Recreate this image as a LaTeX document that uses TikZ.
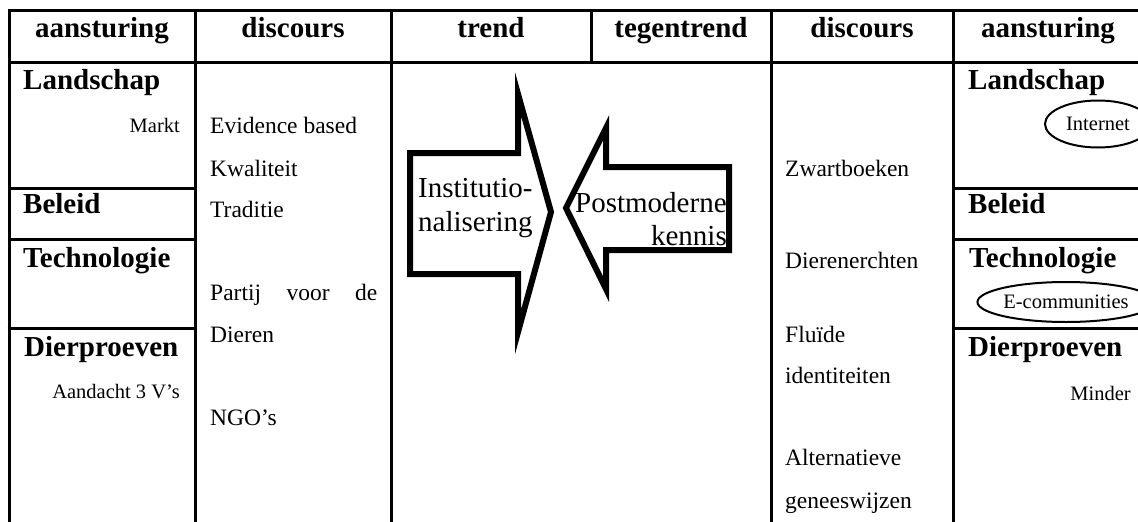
\documentclass[tikz,border=0pt]{standalone}
\usepackage{fontspec}
\setmainfont{Liberation Serif}
\usetikzlibrary{shapes.geometric}

\begin{document}
\begin{tikzpicture}[x=1pt,y=-1pt,
  grid/.style={line width=3pt},
  head/.style={font=\fontsize{29}{34}\selectfont\bfseries, anchor=base, inner sep=0pt},
  cat/.style={font=\fontsize{29}{34}\selectfont\bfseries, anchor=base west, inner sep=0pt},
  disc/.style={font=\fontsize{23.5}{28}\selectfont, anchor=base west, inner sep=0pt},
  note/.style={font=\fontsize{20.5}{24}\selectfont, anchor=base east, inner sep=0pt},
  tag/.style={ellipse, draw, line width=2pt, font=\fontsize{20.5}{24}\selectfont, inner sep=0pt},
  bigarrow/.style={draw, fill=white, line width=6pt, line join=miter, miter limit=20},
  arrowtext/.style={font=\fontsize{29}{34}\selectfont, inner sep=0pt}]

\useasboundingbox (0,0) rectangle (1138,522);

% table rules
\draw[grid] (9,524) -- (9,10) -- (1142,10);
\draw[grid] (7.5,62) -- (1142,62);
\foreach \xx in {195,391,771,953} \draw[grid] (\xx,10) -- (\xx,524);
\draw[grid] (591,10) -- (591,62);
\foreach \yy in {188,239,328} {
  \draw[grid] (7.5,\yy) -- (195,\yy);
  \draw[grid] (953,\yy) -- (1142,\yy);
}

% header row
\node[head] (h1) at (102,37) {aansturing};
\node[head] (h2) at (293,37) {discours};
\node[head] (h3) at (491,37) {trend};
\node[head] (h4) at (681,37) {tegentrend};
\node[head] (h5) at (862,37) {discours};
\node[head] (h6) at (1048,37) {aansturing};

% left steering column
\node[cat] (la) at (23,89) {Landschap};
\node[note] (lm) at (180,132) {Markt};
\node[cat] (lb) at (23,213) {Beleid};
\node[cat] (lt) at (23,267) {Technologie};
\node[cat] (ld) at (24,356) {Dierproeven};
\node[note] (lv) at (180,398) {Aandacht 3 V’s};

% left discourse column
\node[disc] (d1) at (210,133) {Evidence based};
\node[disc] (d2) at (210,176) {Kwaliteit};
\node[disc] (d3) at (210,217) {Traditie};
\node[disc] (d4) at (210,300) {\hbox to 167pt{Partij\hfill voor\hfill de}};
\node[disc] (d5) at (210,342) {Dieren};
\node[disc] (d6) at (210,425) {NGO’s};

% trend and counter-trend arrows
\draw[bigarrow] (410,153) -- (518,153) -- (518,94) -- (551,212)
  -- (518,332) -- (518,274) -- (410,274) -- cycle;
\draw[bigarrow] (729,167) -- (606,167) -- (606,128) -- (566,208)
  -- (606,289) -- (606,250) -- (729,250) -- cycle;
\node[arrowtext, anchor=base west] (t1) at (418,197) {Institutio-};
\node[arrowtext, anchor=base west] (t2) at (418,231) {nalisering};
\node[arrowtext, anchor=base west] (t3) at (575,212) {Postmoderne};
\node[arrowtext, anchor=base east] (t4) at (727,245) {kennis};

% right discourse column
\node[disc] (r1) at (785,176) {Zwartboeken};
\node[disc] (r2) at (785,268) {Dierenerchten};
\node[disc] (r3) at (785,342) {Fluïde};
\node[disc] (r4) at (785,383) {identiteiten};
\node[disc] (r5) at (785,465) {Alternatieve};
\node[disc] (r6) at (785,508) {geneeswijzen};

% right steering column
\node[cat] (ra) at (968,89) {Landschap};
\node[tag, minimum width=106pt, minimum height=47pt] (ri) at (1098,124) {Internet};
\node[cat] (rb) at (968,213) {Beleid};
\node[cat] (rt) at (969,267) {Technologie};
\node[tag, minimum width=175pt, minimum height=40pt] (re) at (1066,302) {E-communities};
\node[cat] (rd) at (968,356) {Dierproeven};
\node[note] (rm) at (1131,400) {Minder};
\end{tikzpicture}
\end{document}
